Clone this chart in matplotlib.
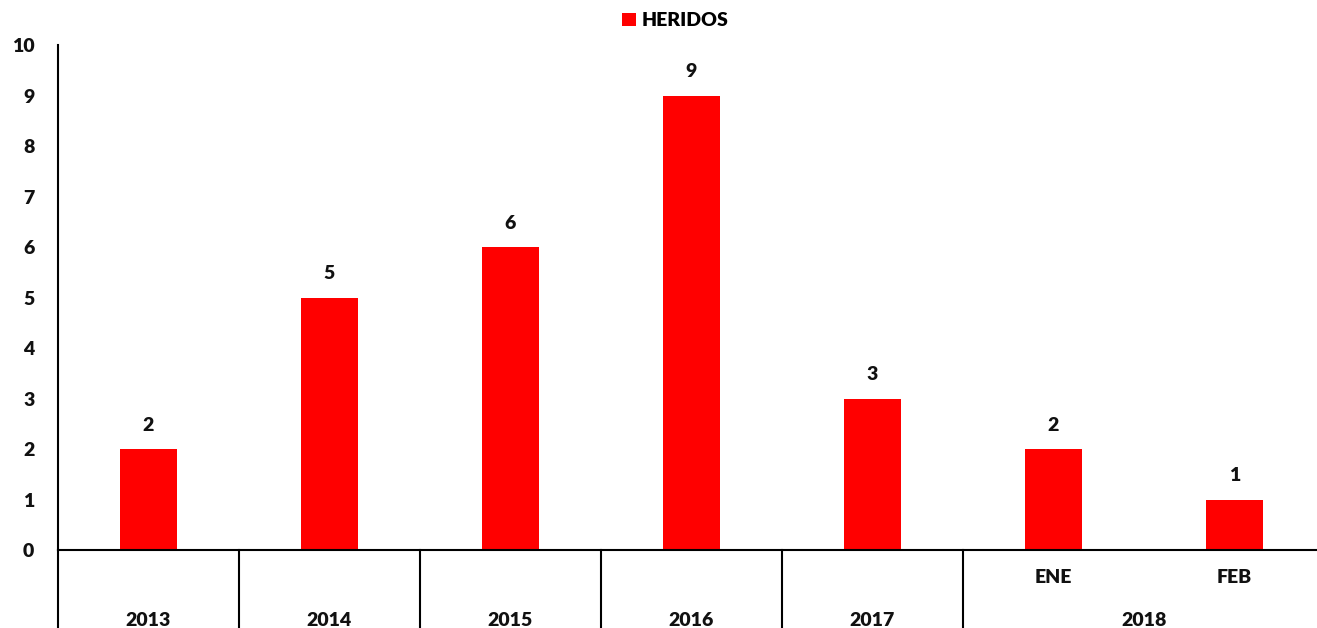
import matplotlib.pyplot as plt
from matplotlib.transforms import blended_transform_factory

plt.rcParams['font.family'] = ['Lato', 'DejaVu Sans']
plt.rcParams['font.weight'] = 'bold'

# data
categories = ['2013', '2014', '2015', '2016', '2017', 'ENE', 'FEB']
heridos = [2, 5, 6, 9, 3, 2, 1]
years = ['2013', '2014', '2015', '2016', '2017', '2018']
year_spans = [(0, 0), (1, 1), (2, 2), (3, 3), (4, 4), (5, 6)]
months = {5: 'ENE', 6: 'FEB'}
series_name = 'HERIDOS'
bar_color = '#FF0000'
txt = '#111111'

fig = plt.figure(figsize=(13.17, 6.28), dpi=100, facecolor='white')
ax = fig.add_axes([0.044, 0.1242, 0.962, 0.8041])

x = list(range(len(categories)))
bars = ax.bar(x, heridos, width=0.315, color=bar_color, label=series_name, zorder=2)
ax.bar_label(bars, labels=[str(v) for v in heridos], padding=11,
             fontsize=14, fontweight='heavy', color=txt)

ax.set_xlim(-0.5, 6.5)
ax.set_ylim(0, 10)
ax.set_yticks(range(0, 11))
ax.tick_params(axis='y', length=0, pad=17, labelsize=14, labelcolor=txt)
for lbl in ax.get_yticklabels():
    lbl.set_fontweight('heavy')
ax.set_xticks([])
for s in ['top', 'right']:
    ax.spines[s].set_visible(False)
ax.spines['left'].set_linewidth(1.5)
ax.spines['bottom'].set_linewidth(1.5)

# multi-level category axis below the zero line
trans = blended_transform_factory(ax.transData, ax.transAxes)
for i, label in months.items():
    ax.text(i, -0.038, label, transform=trans, ha='center', va='top',
            fontsize=14, fontweight='heavy', color=txt, clip_on=False)
for name, (a, b) in zip(years, year_spans):
    ax.text((a + b) / 2, -0.123, name, transform=trans, ha='center', va='top',
            fontsize=14, fontweight='heavy', color=txt, clip_on=False)
    ax.plot([a - 0.5, a - 0.5], [0, -0.25], transform=trans, color='black',
            lw=1.5, clip_on=False)

fig.legend(loc='upper center', bbox_to_anchor=(0.513, 1.008), frameon=False,
           handlelength=0.7, handleheight=0.7, handletextpad=0.3,
           prop={'size': 14, 'weight': 'heavy'})

fig.savefig('out.png', dpi=100, facecolor='white')
